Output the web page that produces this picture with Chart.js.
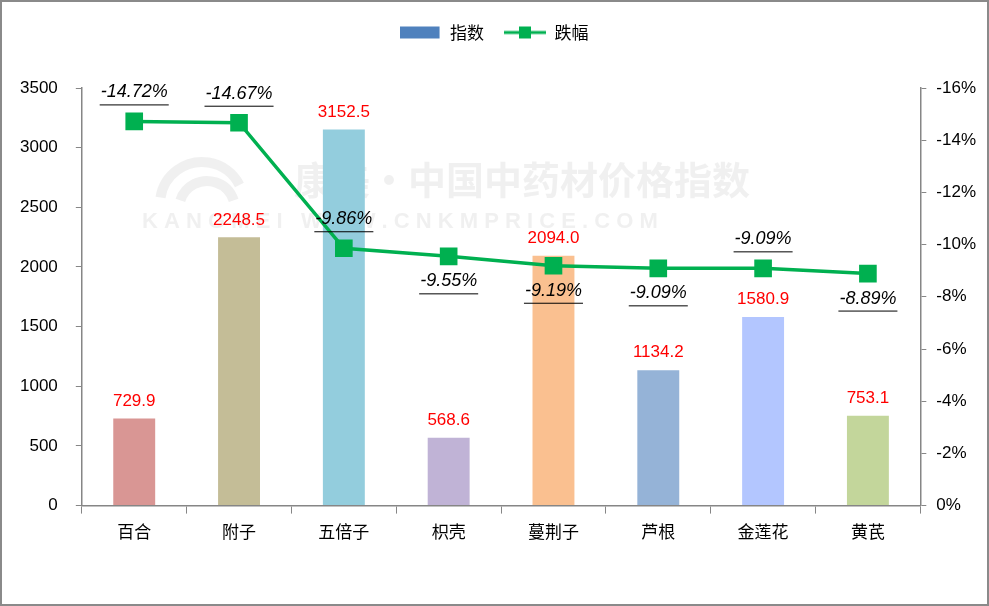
<!DOCTYPE html>
<html>
<head>
<meta charset="utf-8">
<script src="https://cdn.jsdelivr.net/npm/chart.js@4"></script>
<style>
  body { margin: 0; background: #fff; }
  #wrap { width: 989px; height: 606px; box-sizing: border-box; border: 2px solid #8a8a8a; }
  canvas { display: block; }
</style>
</head>
<body>
<div id="wrap"><canvas id="chart" width="985" height="602"></canvas></div>
<script>
const herbs = ['百合', '附子', '五倍子', '枳壳', '蔓荆子', '芦根', '金莲花', '黄芪'];
const indexValues = [729.9, 2248.5, 3152.5, 568.6, 2094.0, 1134.2, 1580.9, 753.1];
const dropValues = [-14.72, -14.67, -9.86, -9.55, -9.19, -9.09, -9.09, -8.89];
const leftTicks = [0, 500, 1000, 1500, 2000, 2500, 3000, 3500];
const rightTicks = [0, -2, -4, -6, -8, -10, -12, -14, -16];

const barColors = ['#d99694', '#c4bd97', '#93cddd', '#c0b3d6', '#fac090', '#95b3d7', '#b3c6ff', '#c3d69b'];
// where each percent label sits relative to its point
const dropLabelSide = ['up', 'up', 'up', 'down', 'down', 'down', 'up', 'down'];

const axisGray = '#868686';
const tickFont = { family: 'Liberation Sans, Noto Sans CJK SC', size: 17 };

function legendIcon(kind) {
  const c = document.createElement('canvas');
  c.width = 42; c.height = 14;
  const g = c.getContext('2d');
  if (kind === 'bar') {
    g.fillStyle = '#4f81bd';
    g.fillRect(0, 1, 40, 12);
  } else {
    g.strokeStyle = '#00b050';
    g.lineWidth = 3;
    g.beginPath(); g.moveTo(0, 7); g.lineTo(42, 7); g.stroke();
    g.fillStyle = '#00b050';
    g.fillRect(15, 1, 12, 12);
  }
  return c;
}
const barIcon = legendIcon('bar');
const lineIcon = legendIcon('line');

// extra room between legend and plot
const legendGap = {
  id: 'legendGap',
  beforeInit(chart) {
    const fit = chart.legend.fit;
    chart.legend.fit = function () {
      fit.call(this);
      this.height += 37;
    };
  }
};

const watermark = {
  id: 'watermark',
  beforeDatasetsDraw(chart) {
    const ctx = chart.ctx;
    ctx.save();
    ctx.fillStyle = 'rgba(200,200,200,0.28)';
    ctx.strokeStyle = 'rgba(200,200,200,0.28)';
    ctx.font = 'bold 38px "Noto Sans CJK SC"';
    ctx.textBaseline = 'middle';
    ctx.fillText('康美·中国中药材价格指数', 292, 178);
    ctx.font = 'bold 22px "Liberation Sans"';
    ctx.fillText('K A N G M E I   W W W . C N K M P R I C E . C O M', 140, 220);
    ctx.lineWidth = 10;
    ctx.beginPath();
    ctx.arc(200, 202, 42, Math.PI * 1.05, Math.PI * 1.85);
    ctx.stroke();
    ctx.beginPath();
    ctx.arc(205, 207, 28, Math.PI * 1.1, Math.PI * 1.9);
    ctx.stroke();
    ctx.restore();
  }
};

const valueLabels = {
  id: 'valueLabels',
  afterDatasetsDraw(chart) {
    const ctx = chart.ctx;
    ctx.save();
    ctx.textAlign = 'center';
    ctx.textBaseline = 'bottom';
    ctx.fillStyle = '#ff0000';
    ctx.font = '17px "Liberation Sans"';
    chart.getDatasetMeta(0).data.forEach((bar, i) => {
      ctx.fillText(indexValues[i].toFixed(1), bar.x, bar.y - 9);
    });
    ctx.fillStyle = '#000';
    ctx.strokeStyle = '#000';
    ctx.lineWidth = 1;
    ctx.font = 'italic 18px "Liberation Sans"';
    chart.getDatasetMeta(1).data.forEach((pt, i) => {
      const txt = dropValues[i].toFixed(2) + '%';
      const x = pt.x;
      const base = dropLabelSide[i] === 'up' ? pt.y - 20 : pt.y + 34;
      ctx.fillText(txt, x, base);
      const w = ctx.measureText(txt).width;
      ctx.beginPath();
      ctx.moveTo(x - w / 2 - 1, base + 3.5);
      ctx.lineTo(x + w / 2 + 1, base + 3.5);
      ctx.stroke();
    });
    ctx.restore();
  }
};

new Chart(document.getElementById('chart'), {
  data: {
    labels: herbs,
    datasets: [
      {
        type: 'bar',
        label: '指数',
        data: indexValues,
        backgroundColor: barColors,
        yAxisID: 'y',
        barPercentage: 0.4,
        categoryPercentage: 1,
        order: 2
      },
      {
        type: 'line',
        label: '跌幅',
        data: dropValues,
        borderColor: '#00b050',
        backgroundColor: '#00b050',
        borderWidth: 3.5,
        pointStyle: 'rect',
        pointRadius: 10,
        pointHoverRadius: 10,
        yAxisID: 'y1',
        order: 1
      }
    ]
  },
  options: {
    responsive: false,
    animation: false,
    layout: { padding: { top: 2, left: 0, right: 1, bottom: 54 } },
    plugins: {
      tooltip: { enabled: false },
      legend: {
        position: 'top',
        labels: {
          usePointStyle: true,
          pointStyleWidth: 42,
          padding: 20,
          color: '#000',
          font: { family: 'Noto Sans CJK SC', size: 17 },
          generateLabels(chart) {
            return chart.data.datasets.map((ds, i) => ({
              text: ds.label,
              datasetIndex: i,
              pointStyle: i === 0 ? barIcon : lineIcon,
              fillStyle: 'transparent',
              strokeStyle: 'transparent',
              lineWidth: 0,
              fontColor: '#000'
            }));
          }
        }
      }
    },
    scales: {
      x: {
        offset: true,
        grid: { drawOnChartArea: false, offset: true, color: axisGray, tickLength: 8 },
        border: { color: axisGray, width: 1.5 },
        ticks: { color: '#000', font: { family: 'Noto Sans CJK SC', size: 17 }, padding: 8 }
      },
      y: {
        position: 'left',
        min: 0,
        max: 3500,
        afterBuildTicks(axis) { axis.ticks = leftTicks.map(v => ({ value: v })); },
        grid: { drawOnChartArea: false, color: axisGray, tickLength: 6 },
        border: { color: axisGray, width: 1.5 },
        ticks: { color: '#000', font: tickFont, padding: 18, callback: v => String(v) }
      },
      y1: {
        position: 'right',
        reverse: true,
        min: -16,
        max: 0,
        afterBuildTicks(axis) { axis.ticks = rightTicks.map(v => ({ value: v })); },
        grid: { drawOnChartArea: false, color: axisGray, tickLength: 6 },
        border: { color: axisGray, width: 1.5 },
        ticks: { color: '#000', font: tickFont, padding: 10, callback: v => v + '%' }
      }
    }
  },
  plugins: [legendGap, watermark, valueLabels]
});
</script>
</body>
</html>
